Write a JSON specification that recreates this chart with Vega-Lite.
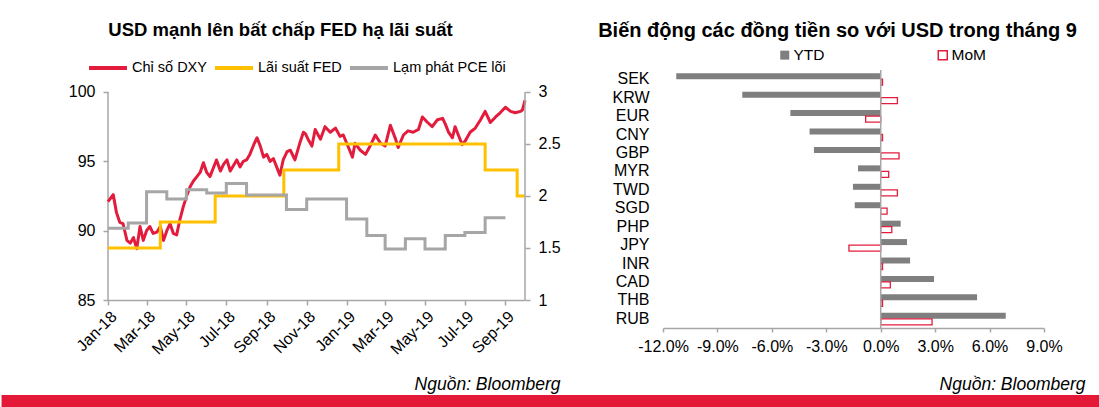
{
  "$schema": "https://vega.github.io/schema/vega-lite/v6.json",
  "background": "white",
  "padding": {"left": 0, "top": 20, "right": 0, "bottom": 0},
  "spacing": 2,
  "config": {
    "font": "Liberation Sans",
    "view": {"stroke": null},
    "axis": {"grid": false, "domainColor": "#A6A6A6", "tickColor": "#A6A6A6", "domainWidth": 1.5, "tickWidth": 1.5, "labelColor": "#000000", "labelFont": "Liberation Sans", "labelFontSize": 16, "labelOverlap": false, "labelFlush": false, "titleFont": "Liberation Sans", "titleColor": "#000000"},
    "legend": {"labelFont": "Liberation Sans", "labelColor": "#000000", "padding": 0},
    "title": {"font": "Liberation Sans", "fontSize": 19, "fontWeight": "bold", "color": "#000000"}
  },
  "datasets": {
    "dxy": [
      {"date": "2018-01-01", "series": "Chỉ số DXY", "value": 92.1},
      {"date": "2018-01-09", "series": "Chỉ số DXY", "value": 92.6},
      {"date": "2018-01-14", "series": "Chỉ số DXY", "value": 91.3},
      {"date": "2018-01-19", "series": "Chỉ số DXY", "value": 90.6},
      {"date": "2018-01-24", "series": "Chỉ số DXY", "value": 90.5},
      {"date": "2018-01-30", "series": "Chỉ số DXY", "value": 89.3},
      {"date": "2018-02-04", "series": "Chỉ số DXY", "value": 89.1},
      {"date": "2018-02-09", "series": "Chỉ số DXY", "value": 89.5},
      {"date": "2018-02-14", "series": "Chỉ số DXY", "value": 88.7},
      {"date": "2018-02-19", "series": "Chỉ số DXY", "value": 90.3},
      {"date": "2018-02-24", "series": "Chỉ số DXY", "value": 89.3},
      {"date": "2018-03-01", "series": "Chỉ số DXY", "value": 90.0},
      {"date": "2018-03-06", "series": "Chỉ số DXY", "value": 90.3},
      {"date": "2018-03-11", "series": "Chỉ số DXY", "value": 89.8},
      {"date": "2018-03-17", "series": "Chỉ số DXY", "value": 89.9},
      {"date": "2018-03-22", "series": "Chỉ số DXY", "value": 90.3},
      {"date": "2018-03-27", "series": "Chỉ số DXY", "value": 89.3},
      {"date": "2018-04-01", "series": "Chỉ số DXY", "value": 90.0},
      {"date": "2018-04-06", "series": "Chỉ số DXY", "value": 90.5},
      {"date": "2018-04-11", "series": "Chỉ số DXY", "value": 89.8},
      {"date": "2018-04-16", "series": "Chỉ số DXY", "value": 89.7},
      {"date": "2018-04-21", "series": "Chỉ số DXY", "value": 90.8},
      {"date": "2018-04-26", "series": "Chỉ số DXY", "value": 91.7},
      {"date": "2018-05-02", "series": "Chỉ số DXY", "value": 92.6},
      {"date": "2018-05-07", "series": "Chỉ số DXY", "value": 93.2},
      {"date": "2018-05-12", "series": "Chỉ số DXY", "value": 93.6},
      {"date": "2018-05-17", "series": "Chỉ số DXY", "value": 93.9},
      {"date": "2018-05-22", "series": "Chỉ số DXY", "value": 94.2},
      {"date": "2018-05-27", "series": "Chỉ số DXY", "value": 94.9},
      {"date": "2018-06-01", "series": "Chỉ số DXY", "value": 94.2},
      {"date": "2018-06-06", "series": "Chỉ số DXY", "value": 93.9},
      {"date": "2018-06-11", "series": "Chỉ số DXY", "value": 94.5},
      {"date": "2018-06-16", "series": "Chỉ số DXY", "value": 95.1},
      {"date": "2018-06-22", "series": "Chỉ số DXY", "value": 94.3},
      {"date": "2018-06-27", "series": "Chỉ số DXY", "value": 94.8},
      {"date": "2018-07-02", "series": "Chỉ số DXY", "value": 95.1},
      {"date": "2018-07-07", "series": "Chỉ số DXY", "value": 94.3},
      {"date": "2018-07-12", "series": "Chỉ số DXY", "value": 94.7},
      {"date": "2018-07-17", "series": "Chỉ số DXY", "value": 95.1},
      {"date": "2018-07-22", "series": "Chỉ số DXY", "value": 94.6},
      {"date": "2018-07-27", "series": "Chỉ số DXY", "value": 95.0},
      {"date": "2018-08-01", "series": "Chỉ số DXY", "value": 95.1},
      {"date": "2018-08-06", "series": "Chỉ số DXY", "value": 95.5},
      {"date": "2018-08-12", "series": "Chỉ số DXY", "value": 96.2},
      {"date": "2018-08-17", "series": "Chỉ số DXY", "value": 96.7},
      {"date": "2018-08-22", "series": "Chỉ số DXY", "value": 96.1},
      {"date": "2018-08-27", "series": "Chỉ số DXY", "value": 95.3},
      {"date": "2018-09-01", "series": "Chỉ số DXY", "value": 95.5},
      {"date": "2018-09-06", "series": "Chỉ số DXY", "value": 95.0},
      {"date": "2018-09-11", "series": "Chỉ số DXY", "value": 95.2},
      {"date": "2018-09-16", "series": "Chỉ số DXY", "value": 94.6},
      {"date": "2018-09-21", "series": "Chỉ số DXY", "value": 94.0},
      {"date": "2018-09-26", "series": "Chỉ số DXY", "value": 95.1},
      {"date": "2018-10-02", "series": "Chỉ số DXY", "value": 95.7},
      {"date": "2018-10-07", "series": "Chỉ số DXY", "value": 95.8},
      {"date": "2018-10-14", "series": "Chỉ số DXY", "value": 95.1},
      {"date": "2018-10-22", "series": "Chỉ số DXY", "value": 96.4},
      {"date": "2018-10-27", "series": "Chỉ số DXY", "value": 97.1},
      {"date": "2018-10-30", "series": "Chỉ số DXY", "value": 97.0},
      {"date": "2018-11-03", "series": "Chỉ số DXY", "value": 96.6},
      {"date": "2018-11-09", "series": "Chỉ số DXY", "value": 96.1},
      {"date": "2018-11-14", "series": "Chỉ số DXY", "value": 97.3},
      {"date": "2018-11-22", "series": "Chỉ số DXY", "value": 96.6},
      {"date": "2018-11-29", "series": "Chỉ số DXY", "value": 97.5},
      {"date": "2018-12-07", "series": "Chỉ số DXY", "value": 97.1},
      {"date": "2018-12-15", "series": "Chỉ số DXY", "value": 97.4},
      {"date": "2018-12-22", "series": "Chỉ số DXY", "value": 96.8},
      {"date": "2018-12-27", "series": "Chỉ số DXY", "value": 96.9},
      {"date": "2019-01-04", "series": "Chỉ số DXY", "value": 96.0},
      {"date": "2019-01-10", "series": "Chỉ số DXY", "value": 95.3},
      {"date": "2019-01-14", "series": "Chỉ số DXY", "value": 96.3},
      {"date": "2019-01-22", "series": "Chỉ số DXY", "value": 95.8},
      {"date": "2019-01-30", "series": "Chỉ số DXY", "value": 95.5},
      {"date": "2019-02-06", "series": "Chỉ số DXY", "value": 96.1},
      {"date": "2019-02-14", "series": "Chỉ số DXY", "value": 96.9},
      {"date": "2019-02-22", "series": "Chỉ số DXY", "value": 96.3},
      {"date": "2019-03-01", "series": "Chỉ số DXY", "value": 96.1},
      {"date": "2019-03-09", "series": "Chỉ số DXY", "value": 97.6},
      {"date": "2019-03-17", "series": "Chỉ số DXY", "value": 96.6},
      {"date": "2019-03-21", "series": "Chỉ số DXY", "value": 96.0},
      {"date": "2019-03-29", "series": "Chỉ số DXY", "value": 96.9},
      {"date": "2019-04-05", "series": "Chỉ số DXY", "value": 97.2},
      {"date": "2019-04-13", "series": "Chỉ số DXY", "value": 97.1},
      {"date": "2019-04-21", "series": "Chỉ số DXY", "value": 97.3},
      {"date": "2019-04-27", "series": "Chỉ số DXY", "value": 98.2},
      {"date": "2019-05-05", "series": "Chỉ số DXY", "value": 97.8},
      {"date": "2019-05-12", "series": "Chỉ số DXY", "value": 97.5},
      {"date": "2019-05-20", "series": "Chỉ số DXY", "value": 98.0},
      {"date": "2019-05-28", "series": "Chỉ số DXY", "value": 98.1},
      {"date": "2019-06-01", "series": "Chỉ số DXY", "value": 97.7},
      {"date": "2019-06-06", "series": "Chỉ số DXY", "value": 97.1},
      {"date": "2019-06-12", "series": "Chỉ số DXY", "value": 96.7},
      {"date": "2019-06-16", "series": "Chỉ số DXY", "value": 97.5},
      {"date": "2019-06-21", "series": "Chỉ số DXY", "value": 96.9},
      {"date": "2019-06-27", "series": "Chỉ số DXY", "value": 96.2},
      {"date": "2019-07-02", "series": "Chỉ số DXY", "value": 96.5},
      {"date": "2019-07-09", "series": "Chỉ số DXY", "value": 97.1},
      {"date": "2019-07-17", "series": "Chỉ số DXY", "value": 97.4},
      {"date": "2019-07-25", "series": "Chỉ số DXY", "value": 98.0},
      {"date": "2019-08-01", "series": "Chỉ số DXY", "value": 98.6},
      {"date": "2019-08-09", "series": "Chỉ số DXY", "value": 97.8},
      {"date": "2019-08-17", "series": "Chỉ số DXY", "value": 98.2},
      {"date": "2019-08-24", "series": "Chỉ số DXY", "value": 98.5},
      {"date": "2019-09-01", "series": "Chỉ số DXY", "value": 98.9},
      {"date": "2019-09-09", "series": "Chỉ số DXY", "value": 98.6},
      {"date": "2019-09-16", "series": "Chỉ số DXY", "value": 98.5},
      {"date": "2019-09-24", "series": "Chỉ số DXY", "value": 98.6},
      {"date": "2019-09-27", "series": "Chỉ số DXY", "value": 98.7},
      {"date": "2019-10-01", "series": "Chỉ số DXY", "value": 99.4}
    ],
    "rates": [
      {"date": "2018-01-01", "series": "Lãi suất FED", "value": 1.5},
      {"date": "2018-03-22", "series": "Lãi suất FED", "value": 1.75},
      {"date": "2018-06-14", "series": "Lãi suất FED", "value": 2.0},
      {"date": "2018-09-27", "series": "Lãi suất FED", "value": 2.25},
      {"date": "2018-12-20", "series": "Lãi suất FED", "value": 2.5},
      {"date": "2019-08-01", "series": "Lãi suất FED", "value": 2.25},
      {"date": "2019-09-19", "series": "Lãi suất FED", "value": 2.0},
      {"date": "2019-10-01", "series": "Lãi suất FED", "value": 2.0},
      {"date": "2018-01-01", "series": "Lạm phát PCE lõi", "value": 1.69},
      {"date": "2018-02-01", "series": "Lạm phát PCE lõi", "value": 1.74},
      {"date": "2018-03-01", "series": "Lạm phát PCE lõi", "value": 2.04},
      {"date": "2018-04-01", "series": "Lạm phát PCE lõi", "value": 1.97},
      {"date": "2018-05-01", "series": "Lạm phát PCE lõi", "value": 2.06},
      {"date": "2018-06-01", "series": "Lạm phát PCE lõi", "value": 2.03},
      {"date": "2018-07-01", "series": "Lạm phát PCE lõi", "value": 2.12},
      {"date": "2018-08-01", "series": "Lạm phát PCE lõi", "value": 2.01},
      {"date": "2018-09-01", "series": "Lạm phát PCE lõi", "value": 2.01},
      {"date": "2018-10-01", "series": "Lạm phát PCE lõi", "value": 1.87},
      {"date": "2018-11-01", "series": "Lạm phát PCE lõi", "value": 1.97},
      {"date": "2018-12-01", "series": "Lạm phát PCE lõi", "value": 1.97},
      {"date": "2019-01-01", "series": "Lạm phát PCE lõi", "value": 1.78},
      {"date": "2019-02-01", "series": "Lạm phát PCE lõi", "value": 1.62},
      {"date": "2019-03-01", "series": "Lạm phát PCE lõi", "value": 1.49},
      {"date": "2019-04-01", "series": "Lạm phát PCE lõi", "value": 1.59},
      {"date": "2019-05-01", "series": "Lạm phát PCE lõi", "value": 1.49},
      {"date": "2019-06-01", "series": "Lạm phát PCE lõi", "value": 1.62},
      {"date": "2019-07-01", "series": "Lạm phát PCE lõi", "value": 1.65},
      {"date": "2019-08-01", "series": "Lạm phát PCE lõi", "value": 1.79},
      {"date": "2019-09-01", "series": "Lạm phát PCE lõi", "value": 1.79}
    ],
    "fx": [
      {"currency": "SEK", "type": "YTD", "value": -11.27}, {"currency": "SEK", "type": "MoM", "value": 0.1},
      {"currency": "KRW", "type": "YTD", "value": -7.63}, {"currency": "KRW", "type": "MoM", "value": 0.92},
      {"currency": "EUR", "type": "YTD", "value": -4.98}, {"currency": "EUR", "type": "MoM", "value": -0.83},
      {"currency": "CNY", "type": "YTD", "value": -3.92}, {"currency": "CNY", "type": "MoM", "value": 0.1},
      {"currency": "GBP", "type": "YTD", "value": -3.68}, {"currency": "GBP", "type": "MoM", "value": 1.01},
      {"currency": "MYR", "type": "YTD", "value": -1.25}, {"currency": "MYR", "type": "MoM", "value": 0.44},
      {"currency": "TWD", "type": "YTD", "value": -1.53}, {"currency": "TWD", "type": "MoM", "value": 0.92},
      {"currency": "SGD", "type": "YTD", "value": -1.43}, {"currency": "SGD", "type": "MoM", "value": 0.35},
      {"currency": "PHP", "type": "YTD", "value": 1.10}, {"currency": "PHP", "type": "MoM", "value": 0.61},
      {"currency": "JPY", "type": "YTD", "value": 1.45}, {"currency": "JPY", "type": "MoM", "value": -1.75},
      {"currency": "INR", "type": "YTD", "value": 1.62}, {"currency": "INR", "type": "MoM", "value": 0.1},
      {"currency": "CAD", "type": "YTD", "value": 2.94}, {"currency": "CAD", "type": "MoM", "value": 0.53},
      {"currency": "THB", "type": "YTD", "value": 5.31}, {"currency": "THB", "type": "MoM", "value": 0.1},
      {"currency": "RUB", "type": "YTD", "value": 6.89}, {"currency": "RUB", "type": "MoM", "value": 2.83}
    ]
  },
  "resolve": {"scale": {"color": "independent", "fill": "independent", "stroke": "independent"}, "legend": {"color": "independent", "fill": "independent", "stroke": "independent"}},
  "vconcat": [
    {
      "spacing": 8,
      "resolve": {"scale": {"color": "independent", "fill": "independent", "stroke": "independent"}, "legend": {"color": "independent", "fill": "independent", "stroke": "independent"}},
      "hconcat": [
        {
          "width": 417,
          "height": 230,
          "title": {"text": "USD mạnh lên bất chấp FED hạ lãi suất", "offset": 8, "dx": -36, "frame": "group", "anchor": "middle", "fontSize": 18.5},
          "layer": [
            {
              "layer": [
                {
                  "data": {"values": [{"date": "2018-01-01", "lo": 85, "hi": 100}]},
                  "mark": {"type": "rule", "color": "#A6A6A6", "strokeWidth": 1.5},
                  "encoding": {
                    "x": {"field": "date", "type": "temporal"},
                    "y": {"field": "lo", "type": "quantitative"},
                    "y2": {"field": "hi"}
                  }
                },
                {
                  "data": {"name": "dxy"},
                  "mark": {"type": "line", "strokeWidth": 3, "strokeJoin": "round"},
                  "encoding": {
                    "x": {
                      "field": "date", "type": "temporal",
                      "scale": {"type": "utc", "domain": [{"year": 2018, "month": 1, "date": 1, "utc": true}, {"year": 2019, "month": 10, "date": 1, "utc": true}]},
                      "axis": {
                        "values": [
                          {"year": 2018, "month": 1, "date": 1, "utc": true},
                          {"year": 2018, "month": 3, "date": 1, "utc": true},
                          {"year": 2018, "month": 5, "date": 1, "utc": true},
                          {"year": 2018, "month": 7, "date": 1, "utc": true},
                          {"year": 2018, "month": 9, "date": 1, "utc": true},
                          {"year": 2018, "month": 11, "date": 1, "utc": true},
                          {"year": 2019, "month": 1, "date": 1, "utc": true},
                          {"year": 2019, "month": 3, "date": 1, "utc": true},
                          {"year": 2019, "month": 5, "date": 1, "utc": true},
                          {"year": 2019, "month": 7, "date": 1, "utc": true},
                          {"year": 2019, "month": 9, "date": 1, "utc": true}
                        ],
                        "labelExpr": "utcFormat(datum.value, '%b-%y')",
                        "labelAngle": -45, "tickSize": 5, "labelPadding": 3,
                        "title": "Nguồn: Bloomberg", "titleFontStyle": "italic", "titleFontWeight": "normal", "titleFontSize": 17.5,
                        "titleAlign": "right", "titleAnchor": "end", "titleX": 452, "titleY": 89, "titleBaseline": "alphabetic"
                      }
                    },
                    "y": {
                      "field": "value", "type": "quantitative",
                      "scale": {"domain": [85, 101.5865], "nice": false, "zero": false},
                      "axis": {"values": [85, 90, 95, 100], "domain": false, "tickSize": 5, "labelPadding": 8, "minExtent": 108, "maxExtent": 108, "title": null}
                    },
                    "color": {
                      "field": "series", "type": "nominal",
                      "scale": {"domain": ["Chỉ số DXY", "Lãi suất FED", "Lạm phát PCE lõi"], "range": ["#E31C3D", "#FFC000", "#A6A6A6"]},
                      "legend": {"orient": "none", "legendX": -21, "legendY": -23, "direction": "horizontal", "title": null, "symbolType": "stroke", "symbolSize": 1444, "symbolStrokeWidth": 4, "labelFontSize": 14.5, "labelOffset": 3, "columnPadding": 0}
                    }
                  }
                }
              ]
            },
            {
              "layer": [
                {
                  "data": {"name": "rates"},
                  "mark": {"type": "line", "strokeWidth": 3, "interpolate": "step-after"},
                  "encoding": {
                    "x": {"field": "date", "type": "temporal"},
                    "y": {
                      "field": "value", "type": "quantitative",
                      "scale": {"domain": [1, 3.2115], "nice": false, "zero": false},
                      "axis": {"orient": "right", "values": [1, 1.5, 2, 2.5, 3], "domain": false, "format": "~g", "tickSize": 5, "labelPadding": 8, "minExtent": 60, "maxExtent": 60, "title": null}
                    },
                    "color": {"field": "series", "type": "nominal"}
                  }
                },
                {
                  "data": {"values": [{"date": "2019-10-01", "lo": 1, "hi": 3}]},
                  "mark": {"type": "rule", "color": "#A6A6A6", "strokeWidth": 1.5},
                  "encoding": {
                    "x": {"field": "date", "type": "temporal"},
                    "y": {"field": "lo", "type": "quantitative"},
                    "y2": {"field": "hi"}
                  }
                }
              ]
            }
          ],
          "resolve": {"scale": {"y": "independent"}}
        },
        {
          "width": 381,
          "height": 258,
          "title": {"text": "Biến động các đồng tiền so với USD trong tháng 9", "offset": 6, "dx": -16, "frame": "group", "anchor": "middle", "fontSize": 20},
          "layer": [
            {
              "data": {"name": "fx"},
              "mark": {"type": "bar", "strokeWidth": 1.3},
              "encoding": {
                "y": {
                  "field": "currency", "type": "nominal",
                  "sort": ["SEK", "KRW", "EUR", "CNY", "GBP", "MYR", "TWD", "SGD", "PHP", "JPY", "INR", "CAD", "THB", "RUB"],
                  "scale": {"paddingInner": 0.35, "paddingOuter": 0.175},
                  "axis": {"title": null, "domain": false, "ticks": false, "labelPadding": 14, "minExtent": 70, "maxExtent": 70}
                },
                "yOffset": {"field": "type", "type": "nominal", "sort": ["YTD", "MoM"], "scale": {"paddingInner": 0, "paddingOuter": 0}},
                "x": {
                  "field": "value", "type": "quantitative",
                  "scale": {"domain": [-12, 9], "nice": false, "zero": false},
                  "axis": {
                    "values": [-12, -9, -6, -3, 0, 3, 6, 9],
                    "labelExpr": "replace(format(datum.value, '.1f'), '\u2212', '-') + '%'",
                    "tickSize": 4, "labelPadding": 6,
                    "title": "Nguồn: Bloomberg", "titleFontStyle": "italic", "titleFontWeight": "normal", "titleFontSize": 17.5,
                    "titleAlign": "right", "titleAnchor": "end", "titleX": 422, "titleY": 61, "titleBaseline": "alphabetic"
                  }
                },
                "fill": {
                  "field": "type", "type": "nominal",
                  "scale": {"domain": ["YTD", "MoM"], "range": ["#7F7F7F", "#FFFFFF"]},
                  "legend": {"orient": "none", "legendX": 114, "legendY": -23, "direction": "horizontal", "title": null, "symbolType": "square", "symbolSize": 81, "symbolStrokeWidth": 1.5, "labelFontSize": 15.5, "labelOffset": 1, "columnPadding": 110}
                },
                "stroke": {
                  "field": "type", "type": "nominal",
                  "scale": {"domain": ["YTD", "MoM"], "range": ["transparent", "#E31C3D"]},
                  "legend": {"orient": "none", "legendX": 114, "legendY": -23, "direction": "horizontal", "title": null, "symbolType": "square", "symbolSize": 81, "symbolStrokeWidth": 1.5, "labelFontSize": 15.5, "labelOffset": 1, "columnPadding": 110}
                }
              }
            },
            {
              "data": {"values": [{"zero": 0}]},
              "mark": {"type": "rule", "color": "#A6A6A6", "strokeWidth": 1.5},
              "encoding": {"x": {"field": "zero", "type": "quantitative"}}
            }
          ]
        }
      ]
    },
    {
      "width": 991,
      "height": 12,
      "data": {"values": [{"start": 0, "end": 1}]},
      "mark": {"type": "rect", "color": "#E31937"},
      "encoding": {
        "x": {"field": "start", "type": "quantitative", "scale": {"domain": [0.097, 1], "nice": false, "zero": false}, "axis": null},
        "x2": {"field": "end"}
      }
    }
  ]
}
